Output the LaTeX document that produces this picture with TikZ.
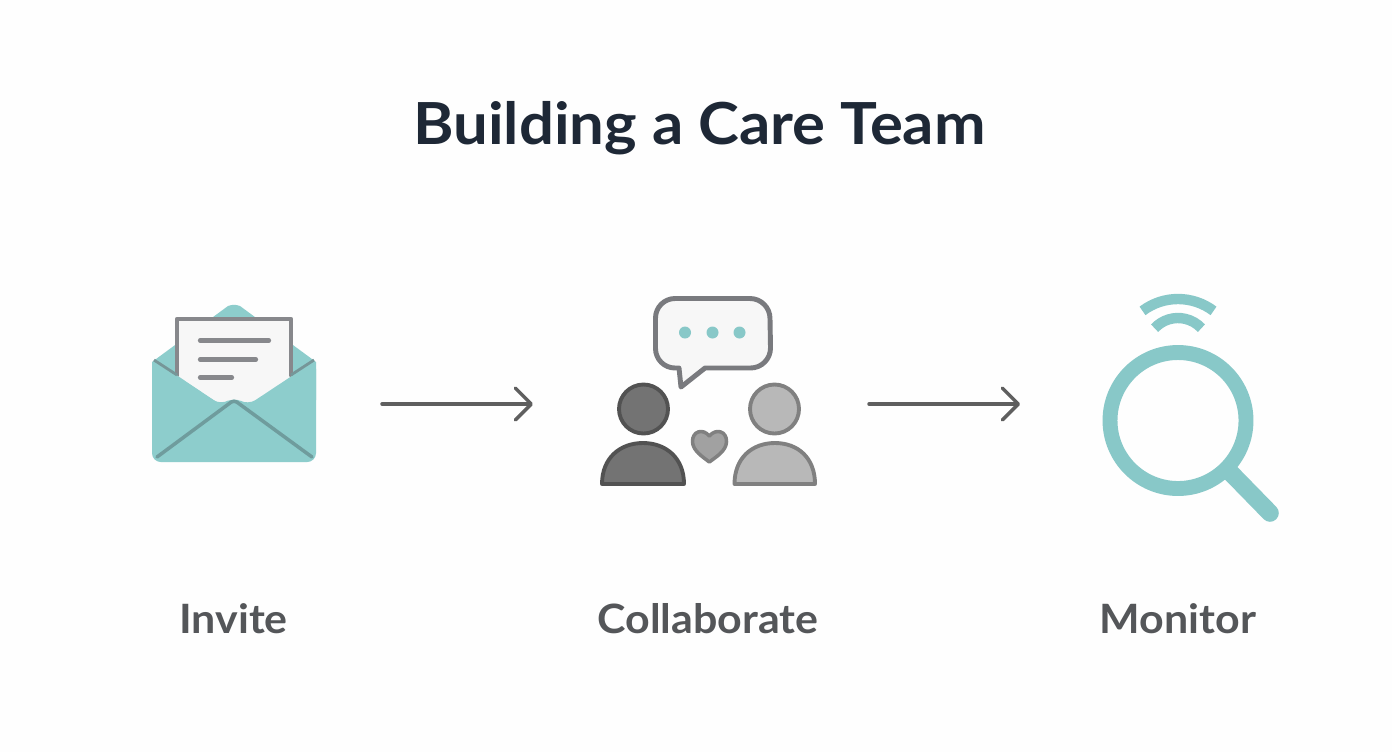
\documentclass[tikz,border=0pt]{standalone}
\usepackage{fontspec}
\setmainfont{Lato}[FakeStretch = 1.063]
\usepackage{xcolor}
\usetikzlibrary{arrows.meta}
\definecolor{pagewhite}{HTML}{FEFEFE}
\definecolor{tealfill}{HTML}{8DCDCC}
\definecolor{tealline}{HTML}{6F9C9D}
\definecolor{lensteal}{HTML}{88C8C8}
\definecolor{sheetline}{HTML}{87888C}
\definecolor{arrowgray}{HTML}{5F5F5F}
\definecolor{titleink}{HTML}{1E2836}
\definecolor{labelink}{HTML}{545659}
\tikzset{
	flow/.style = {arrowgray, line width = 2pt, line cap = round, -{Straight Barb[length = 9pt, width = 18pt, line width = 2pt, round]}},
	caption/.style = {labelink, font = \fontsize{23pt}{25pt}\selectfont\bfseries, anchor = base},
	person/.style = {line width = 2.2pt, line join = round},
	textline/.style = {sheetline, line width = 2.4pt, line cap = round},
	wave/.style = {lensteal, line width = 5.9pt}
}

\begin{document}
\begin{tikzpicture}[x = 0.02cm, y = -0.02cm]
	\useasboundingbox (0,0) rectangle (1392,752);
	\fill [pagewhite] (0,0) rectangle (1392,752);

	\node (title) [titleink, font = \fontsize{33pt}{36pt}\selectfont\bfseries, anchor = base] at (699.5,144) {Building a Care Team};

	\begin{scope}
		\fill [tealfill, line join = round] (152,362) -- (228,306) to [bend left = 20] (240,306) -- (316,362) -- (316,400) -- (152,400) -- cycle;
		\fill [white!97!black] (177,319) rectangle (291,400);
		\draw [sheetline, line width = 2.6pt, line join = round] (177,377) -- (177,319) -- (291,319) -- (291,377);
		\fill [white!97!black] (178,376) -- (290,376) -- (248,408) -- (221,408) -- cycle;
		\draw [textline] (200,340.5) -- (269,340.5);
		\draw [textline] (200,359.5) -- (256,359.5);
		\draw [textline] (200,377.5) -- (232,377.5);
		\fill [tealfill, rounded corners = 5pt] (152,360) -- (152,462) -- (316,462) -- (316,360) -- (248,405) -- (234,397) -- (221,405) -- cycle;
		\fill [tealfill] (154,360) -- (221,405) -- (152,420) -- cycle;
		\draw [tealline!70!sheetline, line width = 1.6pt] (154,360) -- (177,375);
		\draw [tealline!70!sheetline, line width = 1.6pt] (314,360) -- (291,375);
		\draw [tealline, line width = 2pt, line cap = round, line join = round, rounded corners = 2pt] (157,457) -- (234,400) -- (312,457);
	\end{scope}

	\begin{scope}
		\draw [sheetline!90!black, fill = white!97!black, line width = 2.8pt, line join = round] (675,298.5) -- (750,298.5) arc (-90:0:20) -- (770.5,348) arc (0:90:20) -- (705,368) -- (681,387) -- (679,368) -- (675,368) arc (90:180:19.5) -- (655.5,318) arc (180:270:19.5) -- cycle;
		\foreach \dotx in {685,712.5,739.5}
			\fill [lensteal] (\dotx,332.5) circle (6);
		\filldraw [person, fill = black!55, draw = black!68] (643.5,409) circle (24.5);
		\filldraw [person, fill = black!55, draw = black!68] (602,484) .. controls (602,458) and (620,443) .. (643,443) .. controls (666,443) and (684,458) .. (684,484) -- cycle;
		\filldraw [person, fill = black!28, draw = black!50] (774.5,409) circle (24.5);
		\filldraw [person, fill = black!28, draw = black!50] (734.5,484) .. controls (734.5,458) and (752,443) .. (775,443) .. controls (798,443) and (815,458) .. (815,484) -- cycle;
		\filldraw [fill = black!37, draw = black!50, line width = 2pt, line join = round] (709.3,436) .. controls (703,428) and (692,431) .. (692.5,442) .. controls (693,451) and (703,457) .. (709.3,462) .. controls (716,457) and (726,451) .. (726.5,442) .. controls (727,431) and (716,428) .. (709.3,436) -- cycle;
	\end{scope}

	\begin{scope}
		\draw [lensteal, line width = 8.5pt] (1178,420.5) circle (68);
		\draw [lensteal, line width = 10pt, line cap = round] (1228,470) -- (1270,513);
		\draw [wave] (1178,358) ++(-127:59) arc (-127:-53:59);
		\draw [wave] (1178,350) ++(-137:32) arc (-137:-43:32);
	\end{scope}

	\coordinate (inviteOut) at (382,404);
	\coordinate (collabIn) at (533,404);
	\coordinate (collabOut) at (869,404);
	\coordinate (monitorIn) at (1020,404);
	\draw [flow] (inviteOut) -- (collabIn);
	\draw [flow] (collabOut) -- (monitorIn);

	\node (invite) [caption] at (233.5,633) {Invite};
	\node (collaborate) [caption] at (708,633) {Collaborate};
	\node (monitor) [caption] at (1178,633) {Monitor};
\end{tikzpicture}
\end{document}
